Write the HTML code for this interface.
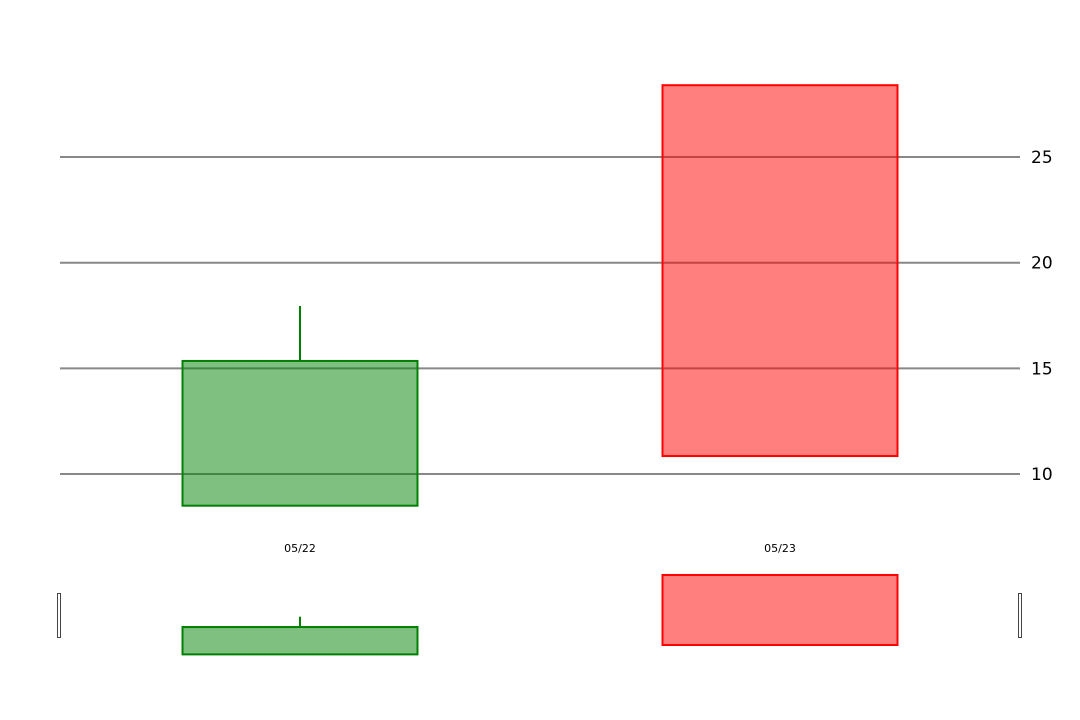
<!DOCTYPE html>
<html><head><meta charset="utf-8"><style>
html,body{margin:0;padding:0;background:#fff;width:1080px;height:720px;overflow:hidden}
svg text{font-family:"DejaVu Sans","Liberation Sans",sans-serif}
</style></head><body>
<svg id="chart" width="1080" height="720" xmlns="http://www.w3.org/2000/svg"></svg>
<script>
const categories = ["05/22", "05/23"];
const openVals = [8.5, 28.4];
const closeVals = [15.35, 10.85];
const highVals = [17.95, 28.4];
const lowVals = [8.5, 10.85];
const yTicks = [10, 15, 20, 25];

const NS = "http://www.w3.org/2000/svg";
const svg = document.getElementById("chart");
const plotL = 60, plotR = 1020;
const band = (plotR - plotL) / categories.length;
const xC = i => plotL + band * (i + 0.5);
const bodyW = 235;
const y = v => 474 - (v - 10) * 21.13;
const ny = v => 645 - (v - 10.85) * 3.99;

function mk(tag, attrs, parent) {
  const e = document.createElementNS(NS, tag);
  for (const k in attrs) e.setAttribute(k, attrs[k]);
  (parent || svg).appendChild(e);
  return e;
}

const grid = mk("g", {});


yTicks.forEach(t => {
  const l = mk("line", {x1: plotL, x2: plotR, y1: y(t), y2: y(t), stroke: "#888", "stroke-width": 2}, grid);
  
  
  const tx = mk("text", {x: 1031, y: y(t) + 6, "font-size": 17, fill: "#000"});
  tx.textContent = t;
  
  
});

function candle(g, i, sy, stroke, fill, nameP) {
  const top = Math.max(openVals[i], closeVals[i]), bot = Math.min(openVals[i], closeVals[i]);
  if (highVals[i] > top) {
    const w1 = mk("line", {x1: xC(i), x2: xC(i), y1: sy(highVals[i]), y2: sy(top), stroke, "stroke-width": 2}, g);
    
    
  }
  if (lowVals[i] < bot) {
    const w2 = mk("line", {x1: xC(i), x2: xC(i), y1: sy(bot), y2: sy(lowVals[i]), stroke, "stroke-width": 2}, g);
    
    
  }
  const r = mk("rect", {x: xC(i) - bodyW / 2, y: sy(top), width: bodyW, height: sy(bot) - sy(top), fill, stroke, "stroke-width": 2}, g);
  
  
}

categories.forEach((c, i) => {
  const up = closeVals[i] >= openVals[i];
  const stroke = up ? "#008000" : "#ff0000";
  const fill = up ? "rgba(0,128,0,0.5)" : "rgba(255,0,0,0.5)";
  const g = mk("g", {});
  
  
  candle(g, i, y, stroke, fill, 'candle');
  const lb = mk("text", {x: xC(i), y: 552, "font-size": 11, "text-anchor": "middle", fill: "#000"});
  lb.textContent = c;
  
  
  const ng = mk("g", {});
  
  
  candle(ng, i, ny, stroke, fill, 'navigator');
});

[58, 1019].forEach((hx, k) => {
  const h = mk("rect", {x: hx - 0.5, y: 593.5, width: 3, height: 44, fill: "#fff", stroke: "#444", "stroke-width": 1});
  
  
});
</script>
</body></html>
